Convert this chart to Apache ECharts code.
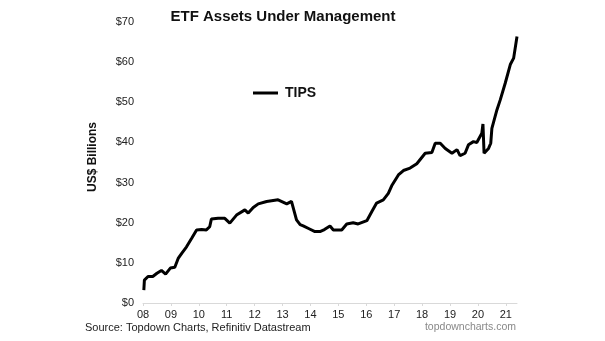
<!DOCTYPE html>
<html>
<head>
<meta charset="utf-8">
<script src="https://cdn.jsdelivr.net/npm/echarts@6/dist/echarts.min.js"></script>
<style>html,body{margin:0;padding:0;background:#fff}#c{width:605px;height:341px}</style>
</head>
<body>
<div id="c"></div>
<script>
// Decimal-year dates and TIPS ETF assets (US$ bn)
const dates = [2008.03,2008.05,2008.18,2008.35,2008.5,2008.66,2008.81,2008.98,2009.14,2009.26,2009.4,2009.56,2009.75,2009.92,2010.1,2010.27,2010.39,2010.45,2010.69,2010.93,2011.11,2011.35,2011.65,2011.77,2011.95,2012.13,2012.43,2012.84,2013.15,2013.32,2013.5,2013.63,2013.74,2013.95,2014.16,2014.34,2014.5,2014.7,2014.82,2015.12,2015.3,2015.53,2015.71,2016.02,2016.2,2016.37,2016.61,2016.79,2016.91,2017.15,2017.33,2017.57,2017.81,2018.11,2018.35,2018.47,2018.65,2018.83,2019.07,2019.25,2019.36,2019.54,2019.66,2019.84,2019.96,2020.14,2020.18,2020.22,2020.38,2020.46,2020.5,2020.68,2020.8,2020.98,2021.16,2021.28,2021.4];
const tips  = [3.2,5.7,6.6,6.6,7.4,8.1,7.2,8.7,8.9,11.1,12.5,14.0,16.2,18.2,18.3,18.2,19.0,20.9,21.1,21.1,19.9,21.9,23.2,22.4,23.8,24.7,25.3,25.7,24.7,25.3,20.7,19.5,19.2,18.5,17.8,17.8,18.3,19.2,18.2,18.2,19.7,20.0,19.7,20.5,22.8,24.9,25.7,27.3,29.2,31.9,33.0,33.6,34.7,37.3,37.5,39.8,39.8,38.5,37.3,38.2,36.7,37.3,39.4,40.2,40.0,42.3,44.6,37.3,38.5,39.8,43.5,48.1,50.6,54.8,59.4,61.0,66.4];
const yearTicks = [2008,2009,2010,2011,2012,2013,2014,2015,2016,2017,2018,2019,2020,2021];
const yTicks = [0,10,20,30,40,50,60,70];

const chart = echarts.init(document.getElementById('c'), null, {renderer:'canvas'});
const F = 'Liberation Sans, Arial, sans-serif';
chart.setOption({
  animation:false,
  backgroundColor:'#fff',
  title:{text:'ETF Assets Under Management',left:278,top:4,textAlign:'center',
    textStyle:{fontFamily:F,fontSize:15,fontWeight:'bold',color:'#111'}},
  legend:{left:253,top:86,padding:0,itemWidth:25,itemHeight:3,itemGap:5,icon:'rect',
    textStyle:{fontFamily:F,fontSize:14,fontWeight:'bold',color:'#111',padding:[0,0,0,2]},
    itemStyle:{color:'#000'},
    data:['TIPS']},
  grid:{left:143,right:88,top:22,bottom:38,containLabel:false},
  xAxis:{type:'value',min:2008,max:2021.4,
    axisLine:{lineStyle:{color:'#d9d9d9',width:1}},
    axisTick:{show:true,length:3,inside:false,customValues:yearTicks,lineStyle:{color:'#d9d9d9'}},
    axisLabel:{customValues:yearTicks,margin:6,fontFamily:F,fontSize:11,color:'#222',
      formatter:v=>String(Math.round(v)).slice(2)},
    splitLine:{show:false}},
  yAxis:{type:'value',min:0,max:70,interval:10,
    axisLine:{show:false},axisTick:{show:false},splitLine:{show:false},
    axisLabel:{margin:9,fontFamily:F,fontSize:11,color:'#222',formatter:v=>'$'+v}},
  series:[{name:'TIPS',type:'line',symbol:'none',
    data:dates.map((d,i)=>[d,tips[i]]),
    lineStyle:{color:'#000',width:3},itemStyle:{color:'#000'}}],
  graphic:[
    {type:'text',x:93,y:157,rotation:Math.PI/2,
      style:{text:'US$ Billions',font:'bold 12px '+F,fill:'#111',align:'center',verticalAlign:'middle'}},
    {type:'text',left:85,top:322,style:{text:'Source: Topdown Charts, Refinitiv Datastream',font:'11px '+F,fill:'#222'}},
    {type:'text',right:89,top:322,style:{text:'topdowncharts.com',font:'10.5px '+F,fill:'#888'}}
  ]
});
</script>
</body>
</html>
